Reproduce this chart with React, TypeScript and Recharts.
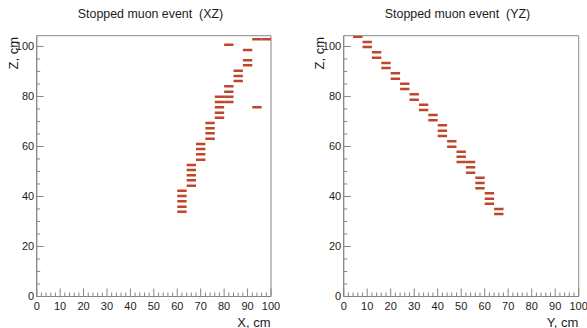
import React from 'react';
import { ComposedChart, XAxis, YAxis, ReferenceArea } from 'recharts';

const STRIP_WIDTH_CM = 4;
const LAYER_THICKNESS_CM = 1;
const Z_MAX = 104.3;

// XZ view: strip lower edge (cm) and layer position z (cm)
const xzStripX = [60, 60, 60, 60, 60, 64, 64, 64, 64, 64, 68, 68, 68, 68, 72, 72, 72, 72, 76, 76, 76, 76, 76, 80, 80, 80, 80, 80, 84, 84, 84, 88, 88, 88, 92, 92, 96];
const xzLayerZ = [33.9, 35.9, 38.1, 40.2, 42.3, 44.3, 46.5, 48.5, 50.6, 52.6, 54.7, 56.9, 59.0, 61.0, 63.1, 65.3, 67.3, 69.4, 71.5, 73.5, 75.7, 77.8, 79.9, 77.8, 79.9, 81.9, 84.1, 100.7, 86.2, 88.2, 90.3, 92.5, 94.5, 98.6, 75.7, 102.9, 102.9];

// YZ view: strip lower edge (cm) and layer position z (cm)
const yzStripY = [4, 8, 8, 12, 12, 16, 16, 20, 20, 24, 24, 28, 28, 32, 32, 36, 36, 40, 40, 40, 44, 44, 48, 48, 48, 52, 52, 52, 56, 56, 56, 60, 60, 60, 64, 64];
const yzLayerZ = [103.9, 99.8, 101.8, 95.5, 97.7, 91.4, 93.4, 87.1, 89.3, 83.0, 85.1, 78.7, 80.9, 74.6, 76.7, 70.5, 72.6, 64.2, 66.3, 68.5, 59.9, 62.1, 53.8, 55.9, 57.9, 49.5, 51.7, 53.8, 43.3, 45.4, 47.5, 37.1, 39.1, 41.3, 33.0, 35.0];

const hTickLabels = [0, 10, 20, 30, 40, 50, 60, 70, 80, 90, 100];
const zTickLabels = [0, 20, 40, 60, 80, 100];
const hTicks = Array.from({ length: 51 }, (_, i) => i * 2);
const zTicks = Array.from({ length: 21 }, (_, i) => i * 5);

const FONT = '"Liberation Sans", Arial, Helvetica, sans-serif';
const AXIS_COLOR = '#858585';
const TEXT_COLOR = '#1c1c1c';
const HIT_COLOR = '#c0462b';

const HTick = (props: any) => {
  const { x, y, payload } = props;
  const v = payload.value;
  const major = hTickLabels.includes(v);
  return (
    <g>
      <line x1={x} x2={x} y1={y} y2={y - (major ? 8 : 4)} stroke={AXIS_COLOR} strokeWidth={1} />
      {major && (
        <text x={x} y={y + 13.5} textAnchor="middle" fontSize={11} fill={TEXT_COLOR} fontFamily={FONT}>
          {v}
        </text>
      )}
    </g>
  );
};

const ZTick = (props: any) => {
  const { x, y, payload } = props;
  const v = payload.value;
  const major = zTickLabels.includes(v);
  return (
    <g>
      <line x1={x} x2={x + (major ? 7 : 3.5)} y1={y} y2={y} stroke={AXIS_COLOR} strokeWidth={1} />
      {major && (
        <text x={x - 2.5} y={y + 3.9} textAnchor="end" fontSize={11} fill={TEXT_COLOR} fontFamily={FONT}>
          {v}
        </text>
      )}
    </g>
  );
};

type PanelProps = {
  left: number;
  width: number;
  marginRight: number;
  strips: number[];
  layers: number[];
};

const Panel = ({ left, width, marginRight, strips, layers }: PanelProps) => (
  <div style={{ position: 'absolute', left, top: 0 }}>
    <ComposedChart
      width={width}
      height={328}
      margin={{ top: 35.7, right: marginRight, bottom: 0, left: 0 }}
    >
      <XAxis
        type="number"
        dataKey="x"
        domain={[0, 100]}
        ticks={hTicks}
        interval={0}
        tickSize={0}
        tickMargin={0}
        tick={<HTick />}
        height={31.5}
        axisLine={{ stroke: AXIS_COLOR }}
        allowDataOverflow
      />
      <YAxis
        type="number"
        dataKey="z"
        domain={[0, Z_MAX]}
        ticks={zTicks}
        interval={0}
        tickSize={0}
        tickMargin={0}
        tick={<ZTick />}
        width={36.7}
        axisLine={{ stroke: AXIS_COLOR }}
        allowDataOverflow
      />
      <ReferenceArea x1={0} x2={100} y1={0} y2={Z_MAX} fill="none" stroke={AXIS_COLOR} strokeWidth={1} ifOverflow="visible" />
      {strips.map((s, i) => (
        <ReferenceArea
          key={i}
          x1={s}
          x2={s + STRIP_WIDTH_CM}
          y1={layers[i] - LAYER_THICKNESS_CM / 2}
          y2={layers[i] + LAYER_THICKNESS_CM / 2}
          fill={HIT_COLOR}
          fillOpacity={1}
          stroke="none"
          ifOverflow="hidden"
        />
      ))}
    </ComposedChart>
  </div>
);

export default function App() {
  return (
    <div style={{ position: 'absolute', left: 0, top: 0, width: 587, height: 328, background: '#fff', overflow: 'hidden' }}>
      <Panel left={0} width={293} marginRight={22} strips={xzStripX} layers={xzLayerZ} />
      <Panel left={306.6} width={280.4} marginRight={8.7} strips={yzStripY} layers={yzLayerZ} />
      <svg width={587} height={328} style={{ position: 'absolute', left: 0, top: 0, pointerEvents: 'none' }}>
        <g fontFamily={FONT} fill={TEXT_COLOR}>
          <text x={150.5} y={17.5} fontSize={12.4} textAnchor="middle" style={{ whiteSpace: 'pre' }}>
            {'Stopped muon event  (XZ)'}
          </text>
          <text x={457.5} y={17.5} fontSize={12.4} textAnchor="middle" style={{ whiteSpace: 'pre' }}>
            {'Stopped muon event  (YZ)'}
          </text>
          <text x={270.5} y={326.5} fontSize={13} textAnchor="end">X, cm</text>
          <text x={578.3} y={326.5} fontSize={13} textAnchor="end">Y, cm</text>
          <text transform="translate(17.7,37) rotate(-90)" fontSize={13} textAnchor="end">Z, cm</text>
          <text transform="translate(324.3,37) rotate(-90)" fontSize={13} textAnchor="end">Z, cm</text>
        </g>
      </svg>
    </div>
  );
}
